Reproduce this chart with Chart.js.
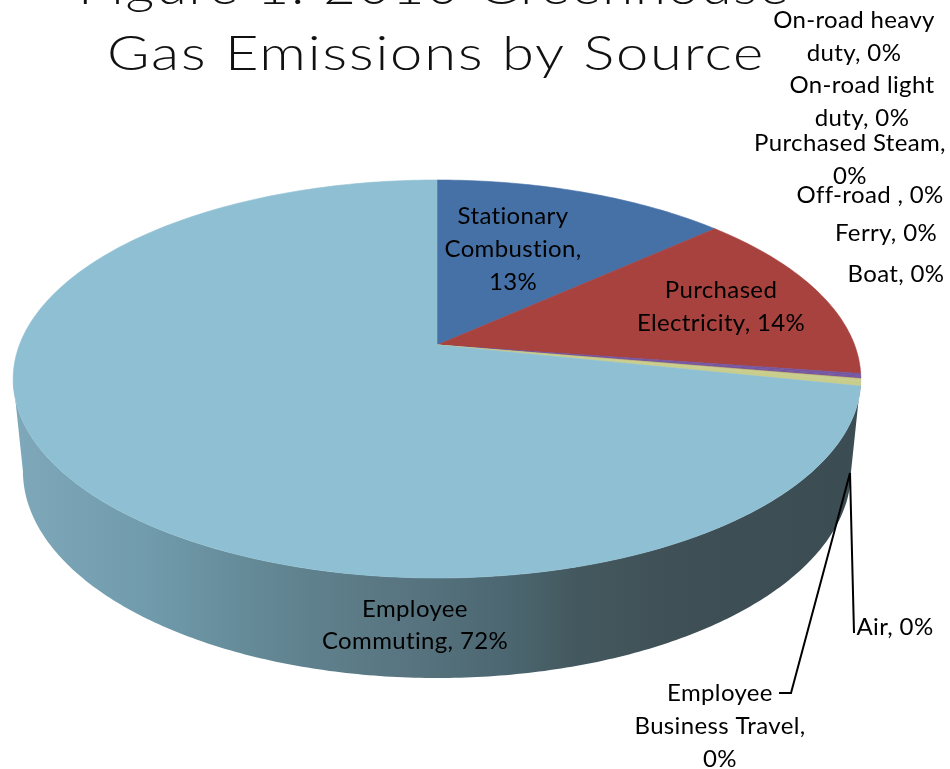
<!DOCTYPE html>
<html>
<head>
<meta charset="utf-8">
<title>Greenhouse Gas Emissions by Source</title>
<style>
  html, body { margin: 0; padding: 0; background: #fff; }
  canvas { display: block; }
</style>
<script src="https://cdn.jsdelivr.net/npm/chart.js@4/dist/chart.umd.min.js"></script>
</head>
<body>
<canvas id="pie" width="950" height="769"></canvas>
<script>
// Emission sources, clockwise from twelve o'clock
const categories = [
  'Stationary Combustion', 'Purchased Electricity', 'On-road heavy duty',
  'On-road light duty', 'Purchased Steam', 'Off-road ', 'Ferry', 'Boat',
  'Air', 'Employee Business Travel', 'Employee Commuting'
];
// Share of total emissions, percent
const shares = [13.3, 14.0, 0.15, 0.12, 0.06, 0.04, 0.02, 0.02, 0.18, 0.4, 71.71];
const sliceColors = [
  '#4671a6', '#a8423f', '#7456a0', '#7456a0', '#7456a0', '#7456a0', '#7456a0',
  '#a87f6a', '#c9cd8c', '#c9cd8c', '#8fbfd3'
];
const titleLines = ['Figure 1: 2010 Greenhouse', 'Gas Emissions by Source'];

// Tilted-disc geometry: the top face is a perspective view of the pie circle
const tilt = { cx: 437, cy: 345, sx: 417.6, sy: 193.2, k: -0.1709 };
const wall = { cy: 379, shiftY: 92, scaleX: 0.977, scaleY: 1.04 };

function project(u, v) {
  const w = 1 + tilt.k * v;
  return { x: tilt.cx + tilt.sx * u / w, y: tilt.cy + tilt.sy * v / w };
}
function rim(angle) { return project(Math.cos(angle), Math.sin(angle)); }
function wallRim(angle) {
  const p = rim(angle);
  return {
    x: tilt.cx + (p.x - tilt.cx) * wall.scaleX,
    y: wall.cy + wall.shiftY + (p.y - wall.cy) * wall.scaleY
  };
}

// Where each data label sits: centre x, first line y, words on each line
const labelLayout = [
  { x: 513, y: 216, dy: 33, words: [1, 1, 1] },
  { x: 721, y: 290, dy: 33, words: [1, 2] },
  { x: 854, y: 20, dy: 33, words: [2, 2] },
  { x: 862, y: 85, dy: 33, words: [2, 2] },
  { x: 850, y: 143, dy: 33, words: [2, 1] },
  { x: 870, y: 195, dy: 33, words: [3] },
  { x: 886, y: 233, dy: 33, words: [2] },
  { x: 896, y: 274, dy: 33, words: [2] },
  { x: 895, y: 627, dy: 33, words: [2] },
  { x: 720, y: 693, dy: 33, words: [1, 2, 1] },
  { x: 415, y: 609, dy: 32, words: [1, 2] }
];

const leaderLines = [
  [[850, 473], [854, 633]],
  [[850, 473], [791, 693], [779, 693]]
];

// Title lines: left edge, baseline and overall width
const titleLayout = [
  { x: 78, y: 4, width: 712 },
  { x: 107, y: 69.5, width: 658 }
];

function labelLines(i) {
  const pct = Math.round(shares[i]) + '%';
  const words = categories[i].endsWith(' ')
    ? [categories[i].trim(), ',', pct]
    : (categories[i] + ', ' + pct).split(' ');
  let at = 0;
  return labelLayout[i].words.map(n => {
    const line = words.slice(at, at + n).join(' ');
    at += n;
    return line;
  });
}

const tiltedPie = {
  id: 'tiltedPie',
  beforeDatasetsDraw(chart) {
    const ctx = chart.ctx;
    ctx.save();
    ctx.fillStyle = '#111';
    ctx.textAlign = 'left';
    ctx.textBaseline = 'alphabetic';
    ctx.font = '300 47px Lato';
    ctx.letterSpacing = '1.5px';
    titleLines.forEach((line, i) => {
      const spot = titleLayout[i];
      const fit = spot.width / ctx.measureText(line).width;
      ctx.save();
      ctx.translate(spot.x, spot.y);
      ctx.scale(fit, 1);
      ctx.fillText(line, 0, 0);
      ctx.restore();
    });
    ctx.restore();
  },
  // Replace the flat arc rendering with the projected disc
  beforeDatasetDraw(chart, args) {
    const ctx = chart.ctx;
    const arcs = chart.getDatasetMeta(args.index).data;
    const steps = 240;

    // Side wall, along the front of the rim between the two tangent points
    const tangent = Math.asin(-tilt.k);
    const front = [], back = [];
    for (let i = 0; i <= steps; i++) {
      const a = tangent + (Math.PI - 2 * tangent) * i / steps;
      front.push(rim(a));
      back.unshift(wallRim(a));
    }
    const shade = ctx.createLinearGradient(12, 0, 862, 0);
    shade.addColorStop(0, '#7fa9ba');
    shade.addColorStop(0.16, '#709bac');
    shade.addColorStop(0.33, '#60838f');
    shade.addColorStop(0.46, '#587581');
    shade.addColorStop(0.58, '#4c6771');
    shade.addColorStop(0.66, '#44595f');
    shade.addColorStop(0.8, '#3e4f55');
    shade.addColorStop(1, '#3b4c52');
    ctx.save();
    ctx.beginPath();
    front.concat(back).forEach((p, i) => i ? ctx.lineTo(p.x, p.y) : ctx.moveTo(p.x, p.y));
    ctx.closePath();
    ctx.fillStyle = shade;
    ctx.fill();
    ctx.restore();

    // Top face, one wedge per arc using the angles the controller computed
    arcs.forEach((arc, i) => {
      const { startAngle, endAngle } = arc.getProps(['startAngle', 'endAngle'], true);
      const n = Math.max(2, Math.ceil((endAngle - startAngle) * 60));
      ctx.beginPath();
      ctx.moveTo(tilt.cx, tilt.cy);
      for (let s = 0; s <= n; s++) {
        const p = rim(startAngle + (endAngle - startAngle) * s / n);
        ctx.lineTo(p.x, p.y);
      }
      ctx.closePath();
      ctx.fillStyle = sliceColors[i];
      ctx.strokeStyle = sliceColors[i];
      ctx.lineWidth = 0.6;
      ctx.fill();
      ctx.stroke();
    });
    return false;
  },
  afterDatasetsDraw(chart) {
    const ctx = chart.ctx;
    ctx.save();
    ctx.strokeStyle = '#000';
    ctx.lineWidth = 2;
    leaderLines.forEach(line => {
      ctx.beginPath();
      line.forEach((p, i) => i ? ctx.lineTo(p[0], p[1]) : ctx.moveTo(p[0], p[1]));
      ctx.stroke();
    });
    ctx.fillStyle = '#000';
    ctx.font = '24px Lato';
    ctx.letterSpacing = '0.35px';
    ctx.textAlign = 'center';
    ctx.textBaseline = 'middle';
    labelLayout.forEach((spot, i) => {
      labelLines(i).forEach((line, j) => ctx.fillText(line, spot.x, spot.y + j * spot.dy));
    });
    ctx.restore();
  }
};

new Chart(document.getElementById('pie'), {
  type: 'pie',
  data: {
    labels: categories,
    datasets: [{ data: shares, backgroundColor: sliceColors, borderWidth: 0 }]
  },
  options: {
    responsive: false,
    animation: false,
    plugins: { legend: { display: false }, tooltip: { enabled: false } }
  },
  plugins: [tiltedPie]
});
</script>
</body>
</html>
